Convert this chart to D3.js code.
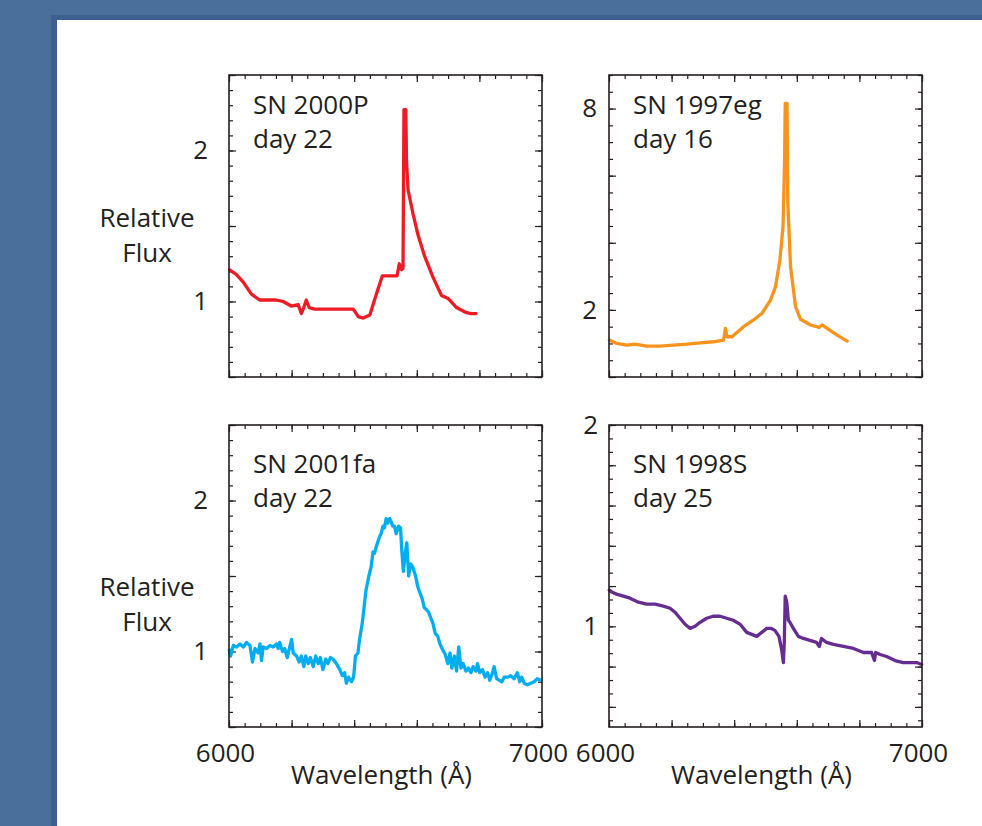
<!DOCTYPE html>
<html>
<head>
<meta charset="utf-8">
<script src="https://cdn.jsdelivr.net/npm/d3@7"></script>
<style>
  html, body { margin: 0; padding: 0; background: #4a6f9b; }
  svg { display: block; font-family: "Open Sans", sans-serif; }
</style>
</head>
<body>
<svg id="chart" width="982" height="826"></svg>
<script>
(function () {
  'use strict';

  /* ── données ────────────────────────────────────────────────── */
  var wl2000P   = [6002,6023,6045,6071,6098,6119,6151,6173,6199,6221,6231,6239,6247,6256,6274,6311,6354,6397,6413,6429,
                   6450,6471,6490,6514,6537,6544,6551,6556,6559,6565,6567,6572,6588,6604,6625,6652,6679,6700,6727,6754,6772,6789];
  var flux2000P = [1.21,1.18,1.13,1.05,1.01,1.01,1.01,1.00,0.97,0.98,0.92,0.96,1.01,0.96,0.95,0.95,0.95,0.95,0.90,0.89,
                   0.91,1.05,1.17,1.17,1.17,1.25,1.21,1.22,2.27,2.27,1.94,1.74,1.58,1.44,1.30,1.16,1.04,1.02,0.96,0.93,0.92,0.92];

  var wl1997eg   = [6001,6025,6057,6083,6121,6163,6206,6249,6292,6334,6366,6372,6377,6393,6430,6462,6489,6516,6532,6546,
                    6556,6561,6563,6569,6571,6580,6596,6612,6644,6671,6681,6697,6729,6761];
  var flux1997eg = [1.10,1.00,0.95,0.98,0.92,0.92,0.95,0.98,1.02,1.05,1.10,1.45,1.20,1.20,1.50,1.70,1.90,2.29,2.69,3.49,
                    4.48,6.46,8.15,8.15,5.27,3.29,2.10,1.72,1.55,1.48,1.55,1.45,1.25,1.07];

  var wl2001fa   = [6001,6005,6014,6024,6035,6046,6056,6067,6075,6083,6093,6099,6104,6109,6120,6131,6141,6152,6157,6162,
                    6171,6178,6186,6194,6200,6205,6216,6224,6231,6239,6245,6253,6260,6269,6277,6285,6292,6300,6309,6316,
                    6324,6332,6343,6354,6362,6369,6375,6382,6391,6398,6404,6412,6417,6426,6433,6438,6447,6454,6460,6465,
                    6470,6476,6481,6486,6492,6497,6502,6507,6513,6518,6523,6529,6534,6542,6548,6552,6557,6563,6568,6574,
                    6580,6587,6596,6603,6608,6617,6624,6630,6638,6645,6651,6659,6667,6674,6683,6691,6699,6706,6712,6720,
                    6727,6734,6741,6748,6757,6765,6773,6780,6789,6794,6801,6810,6818,6826,6833,6842,6847,6855,6863,6872,
                    6879,6890,6900,6911,6921,6929,6935,6943,6953,6964,6975,6985,6996];
  var flux2001fa = [1.01,0.97,1.04,1.03,1.05,1.03,1.06,1.04,0.93,1.02,0.99,1.05,0.94,1.03,1.02,1.04,1.03,1.05,1.02,1.06,
                    1.00,1.02,0.96,1.03,1.08,0.99,0.97,0.93,0.97,0.90,0.97,0.92,0.96,0.90,0.97,0.92,0.96,0.88,0.95,0.92,
                    0.96,0.95,0.92,0.88,0.84,0.86,0.79,0.83,0.80,0.83,0.97,0.99,1.08,1.19,1.32,1.41,1.50,1.56,1.66,1.65,
                    1.69,1.73,1.76,1.78,1.83,1.82,1.88,1.85,1.88,1.86,1.83,1.83,1.78,1.83,1.82,1.67,1.53,1.65,1.72,1.50,
                    1.58,1.56,1.50,1.43,1.40,1.35,1.29,1.28,1.26,1.22,1.19,1.12,1.10,1.05,1.01,0.98,0.92,0.99,0.89,0.97,
                    0.87,1.03,0.89,0.92,0.87,0.89,0.86,0.90,0.87,0.92,0.86,0.88,0.83,0.86,0.81,0.86,0.90,0.82,0.81,0.80,
                    0.83,0.83,0.84,0.82,0.86,0.80,0.83,0.79,0.78,0.79,0.80,0.82,0.81];

  var wl1998S   = [6001,6009,6024,6046,6067,6094,6120,6147,6174,6195,6211,6227,6243,6259,6275,6291,6312,6333,6355,6376,
                   6397,6419,6440,6456,6472,6488,6504,6517,6530,6543,6552,6557,6560,6563,6568,6573,6578,6589,6605,6621,
                   6642,6663,6672,6679,6695,6717,6749,6781,6813,6839,6848,6852,6866,6887,6914,6940,6962,6983,6999];
  var flux1998S = [1.18,1.17,1.16,1.15,1.14,1.12,1.11,1.11,1.10,1.09,1.07,1.04,1.01,0.99,1.00,1.02,1.04,1.05,1.05,1.04,
                   1.03,1.01,0.97,0.96,0.95,0.97,0.99,0.99,0.98,0.95,0.88,0.82,0.92,1.15,1.12,1.03,1.02,0.99,0.95,0.94,
                   0.93,0.92,0.90,0.94,0.92,0.91,0.90,0.89,0.87,0.87,0.83,0.87,0.86,0.85,0.83,0.82,0.82,0.82,0.81];

  var xDomain     = [6000, 7000];
  var xTickLabels = [6000, 7000];
  var xTitle      = 'Wavelength (Å)';
  var yTitle      = ['Relative', 'Flux'];

  /* ── mise en page ───────────────────────────────────────────── */
  var W = 313, H = 302;
  var INK = '#231f20';

  var panels = [
    { name: 'SN 2000P',  day: 'day 22', wl: wl2000P,  flux: flux2000P,  color: '#ed1c24',
      x: 229, y: 75,  yDomain: [0.5, 2.5], major: 0.5, minor: 0.1, yLabels: [1, 2], pad: 21,
      txt: [39, 73], yTitleAt: [227, 262], xAxis: false },
    { name: 'SN 1997eg', day: 'day 16', wl: wl1997eg, flux: flux1997eg, color: '#f7941d',
      x: 609, y: 75,  yDomain: [0, 9],     major: 2,   minor: 0.5, yLabels: [2, 8], pad: 12,
      txt: [39, 73], yTitleAt: null, xAxis: false },
    { name: 'SN 2001fa', day: 'day 22', wl: wl2001fa, flux: flux2001fa, color: '#00aeef',
      x: 229, y: 425, yDomain: [0.5, 2.5], major: 0.5, minor: 0.1, yLabels: [1, 2], pad: 21,
      txt: [48, 82], yTitleAt: [596, 631], xAxis: true },
    { name: 'SN 1998S',  day: 'day 25', wl: wl1998S,  flux: flux1998S,  color: '#662d91',
      x: 609, y: 425, yDomain: [0.5, 2.0], major: 0.2, minor: 0.2 / 3, yLabels: [1, 2], pad: 11,
      txt: [48, 82], yTitleAt: null, xAxis: true }
  ];

  var svg = d3.select('#chart');

  /* fond bleu + cadre blanc */
  svg.append('rect').attr('width', 982).attr('height', 826).attr('fill', '#4a6f9b');
  svg.append('rect').attr('x', 51).attr('y', 15).attr('width', 931).attr('height', 811).attr('fill', '#3d6090');
  svg.append('rect').attr('x', 57).attr('y', 20).attr('width', 925).attr('height', 806).attr('fill', '#ffffff');

  /* graduations : on part d'une valeur d'ancrage et on reste dans [lo, hi] */
  function ticks(lo, hi, step, anchor) {
    var eps = step * 1e-3, out = [];
    var start = anchor - Math.floor((anchor - lo + eps) / step) * step;
    for (var v = start; v <= hi + eps; v += step) out.push(+v.toFixed(4));
    return out;
  }

  function styleAxis(g) {
    g.select('.domain').remove();
    g.selectAll('line').attr('stroke', INK).attr('stroke-width', 1.2);
  }

  panels.forEach(function (p) {
    var x = d3.scaleLinear().domain(xDomain).range([0, W]);
    var y = d3.scaleLinear().domain(p.yDomain).range([H, 0]);
    var g = svg.append('g').attr('transform', 'translate(' + p.x + ',' + p.y + ')');

    var xMinor = ticks(6000, 7000, 50, 6000), xMajor = ticks(6000, 7000, 200, 6000);
    var yMajor = ticks(p.yDomain[0], p.yDomain[1], p.major, p.yLabels[0]);
    var yMinor = ticks(p.yDomain[0], p.yDomain[1], p.minor, p.yLabels[0]);

    /* graduations intérieures, sur les quatre côtés */
    [[d3.axisBottom, 'translate(0,' + H + ')', x, xMinor, xMajor],
     [d3.axisTop,    'translate(0,0)',          x, xMinor, xMajor],
     [d3.axisLeft,   'translate(0,0)',          y, yMinor, yMajor],
     [d3.axisRight,  'translate(' + W + ',0)',  y, yMinor, yMajor]].forEach(function (a) {
      g.append('g').attr('transform', a[1])
        .call(a[0](a[2]).tickValues(a[3]).tickSize(-4).tickFormat(''))
        .call(styleAxis);
      g.append('g').attr('transform', a[1])
        .call(a[0](a[2]).tickValues(a[4]).tickSize(-7).tickFormat(''))
        .call(styleAxis);
    });

    /* spectre */
    var pts = d3.zip(p.wl, p.flux);
    g.append('path')
      .datum(pts)
      .attr('fill', 'none')
      .attr('stroke', p.color)
      .attr('stroke-width', 3.3)
      .attr('stroke-linejoin', 'round')
      .attr('stroke-linecap', 'round')
      .attr('d', d3.line().x(function (d) { return x(d[0]); }).y(function (d) { return y(d[1]); }));

    /* cadre */
    g.append('rect').attr('width', W).attr('height', H)
      .attr('fill', 'none').attr('stroke', INK).attr('stroke-width', 1.6);

    /* étiquettes de l'axe y */
    var yl = g.append('g')
      .call(d3.axisLeft(y).tickValues(p.yLabels).tickSize(0).tickPadding(p.pad).tickFormat(d3.format('d')));
    yl.select('.domain').remove();
    yl.selectAll('text').attr('font-size', 26).attr('fill', INK)
      .attr('font-family', '"Open Sans", sans-serif');

    /* nom + jour (un seul bloc de texte sur deux lignes) */
    var lab = g.append('text').attr('font-size', 26).attr('fill', INK);
    lab.append('tspan').attr('x', 24).attr('y', p.txt[0]).text(p.name);
    lab.append('tspan').attr('x', 24).attr('y', p.txt[1]).text(p.day);

    if (p.yTitleAt) {
      var yt = svg.append('text').attr('text-anchor', 'middle').attr('font-size', 26).attr('fill', INK);
      yTitle.forEach(function (s, i) {
        yt.append('tspan').attr('x', 147).attr('y', p.yTitleAt[i]).text(s);
      });
    }

    if (p.xAxis) {
      var xl = g.append('g').attr('transform', 'translate(0,' + H + ')')
        .call(d3.axisBottom(x).tickValues(xTickLabels).tickSize(0).tickFormat(d3.format('d')));
      xl.select('.domain').remove();
      xl.selectAll('text').attr('y', 35).attr('dy', null).attr('dx', -4)
        .attr('font-size', 26).attr('fill', INK).attr('font-family', '"Open Sans", sans-serif');

      g.append('text').attr('x', W / 2 - 4).attr('y', H + 57)
        .attr('text-anchor', 'middle').attr('font-size', 26).attr('fill', INK).text(xTitle);
    }
  });
})();
</script>
</body>
</html>
